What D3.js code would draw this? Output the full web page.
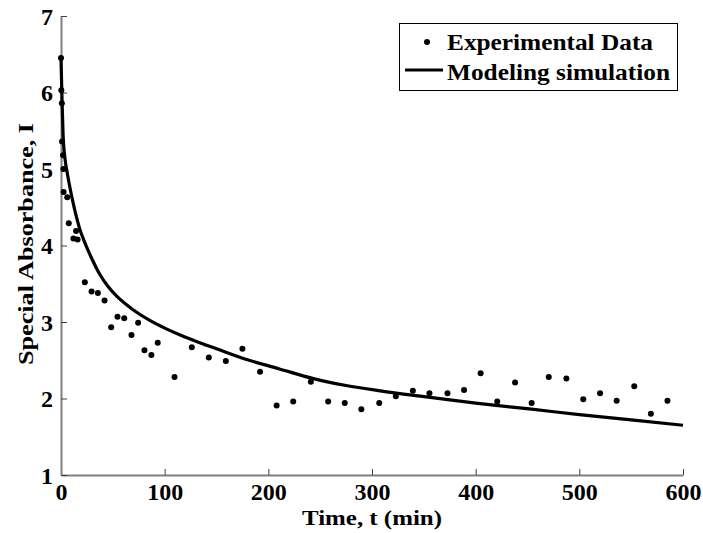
<!DOCTYPE html>
<html><head><meta charset="utf-8">
<script src="https://cdn.jsdelivr.net/npm/d3@7"></script>
<style>body{margin:0;background:#fff}svg{display:block}text{font-family:"Liberation Serif","Times New Roman",serif;font-weight:bold;fill:#000}</style>
</head><body>
<svg id="c" width="703" height="533"></svg>
<script>
const expT = [0,0.3,0.8,1,2,2.3,2.5,6,7.5,12,14.5,16,23,29.5,35.6,42,48.4,54.5,61,68,74.4,80.5,87.2,93.3,109.5,126.2,142.6,159,175,192,208,224,241,257.7,273.7,289.7,307,323,339.4,355.4,372.8,388.8,404.8,420.8,438,454,470.5,487.5,503.8,520,536,553,569,585];
const expV = [6.45,6.03,5.86,5.36,5.18,5.0,4.70,4.63,4.29,4.09,4.19,4.08,3.52,3.40,3.38,3.28,2.93,3.07,3.05,2.83,2.99,2.63,2.57,2.73,2.28,2.67,2.535,2.49,2.65,2.35,1.91,1.96,2.22,1.96,1.94,1.86,1.94,2.03,2.10,2.07,2.07,2.11,2.33,1.96,2.21,1.94,2.28,2.26,1.99,2.07,1.97,2.16,1.80,1.97];
const modT = [0,1,2,4,6,8,11,14.4,18,22,26,30,37.5,45,53.5,69.5,85.6,101.6,115,133.7,150,179,210,243.5,275,308,346.5,400,454,500,550,600];
const modV = [6.45,5.9,5.45,5.12,4.95,4.8,4.6,4.4,4.22,4.07,3.94,3.82,3.62,3.47,3.34,3.16,3.02,2.91,2.83,2.73,2.65,2.51,2.39,2.26,2.17,2.10,2.03,1.94,1.86,1.79,1.72,1.65];
const xTicks = [0,100,200,300,400,500,600];
const yTicks = [1,2,3,4,5,6,7];
const legendLabels = ["Experimental Data","Modeling simulation"];

const svg = d3.select("#c");
const x = d3.scaleLinear().domain([0,600]).range([61,683]);
const y = d3.scaleLinear().domain([1,7]).range([475,16]);
const SERIF = '"Liberation Serif","Times New Roman",serif';

// axes
const xa = svg.append("g").attr("transform","translate(0,475)")
  .call(d3.axisBottom(x).tickValues(xTicks).tickFormat(d3.format("d")).tickSizeInner(-6).tickSizeOuter(0).tickPadding(8));
const ya = svg.append("g").attr("transform","translate(61,0)")
  .call(d3.axisLeft(y).tickValues(yTicks).tickFormat(d3.format("d")).tickSizeInner(-6).tickSizeOuter(0).tickPadding(8));
[xa,ya].forEach(a=>{
  a.attr("font-family",SERIF).attr("font-size",24);
  a.select(".domain").attr("stroke","#808080").attr("stroke-width",2);
  a.selectAll(".tick line").attr("stroke","#404040").attr("stroke-width",1);
  a.selectAll(".tick text").style("font-size","24px").style("font-family",SERIF).style("font-weight","bold").attr("fill","#000");
});
ya.selectAll(".tick text").attr("dy","0.35em");

// model line
const pts = modT.map((t,i)=>[t,modV[i]]);
svg.append("path").datum(pts)
  .attr("fill","none").attr("stroke","#000").attr("stroke-width",3.2)
  .attr("d", d3.line().x(d=>x(d[0])).y(d=>y(d[1])).curve(d3.curveMonotoneX));

// experimental points
svg.append("g").selectAll("circle").data(expT.map((t,i)=>[t,expV[i]])).join("circle")
  .attr("cx",d=>x(d[0])).attr("cy",d=>y(d[1])).attr("r",3).attr("fill","#000");

// labels
svg.append("text").attr("x",302).attr("y",525).attr("textLength",140).attr("lengthAdjust","spacingAndGlyphs").style("font-size","20px").text("Time, t (min)");
svg.append("text").attr("transform","translate(33,365) rotate(-90)").attr("textLength",242).attr("lengthAdjust","spacingAndGlyphs").style("font-size","22px").text("Special Absorbance, I");

// legend
const lg = svg.append("g");
lg.append("rect").attr("x",399.5).attr("y",23.5).attr("width",278).attr("height",67).attr("fill","#fff").attr("stroke","#000").attr("stroke-width",1);
lg.append("circle").attr("cx",427).attr("cy",42).attr("r",3).attr("fill","#000");
lg.append("line").attr("x1",405).attr("x2",443).attr("y1",70).attr("y2",70).attr("stroke","#000").attr("stroke-width",3.2);
const lw = [206,223];
lg.selectAll("text.l").data(legendLabels).join("text").attr("class","l")
  .attr("x",447).attr("y",(d,i)=>50+i*30).attr("textLength",(d,i)=>lw[i]).attr("lengthAdjust","spacingAndGlyphs")
  .style("font-size","23px").text(d=>d);
</script>
</body></html>
